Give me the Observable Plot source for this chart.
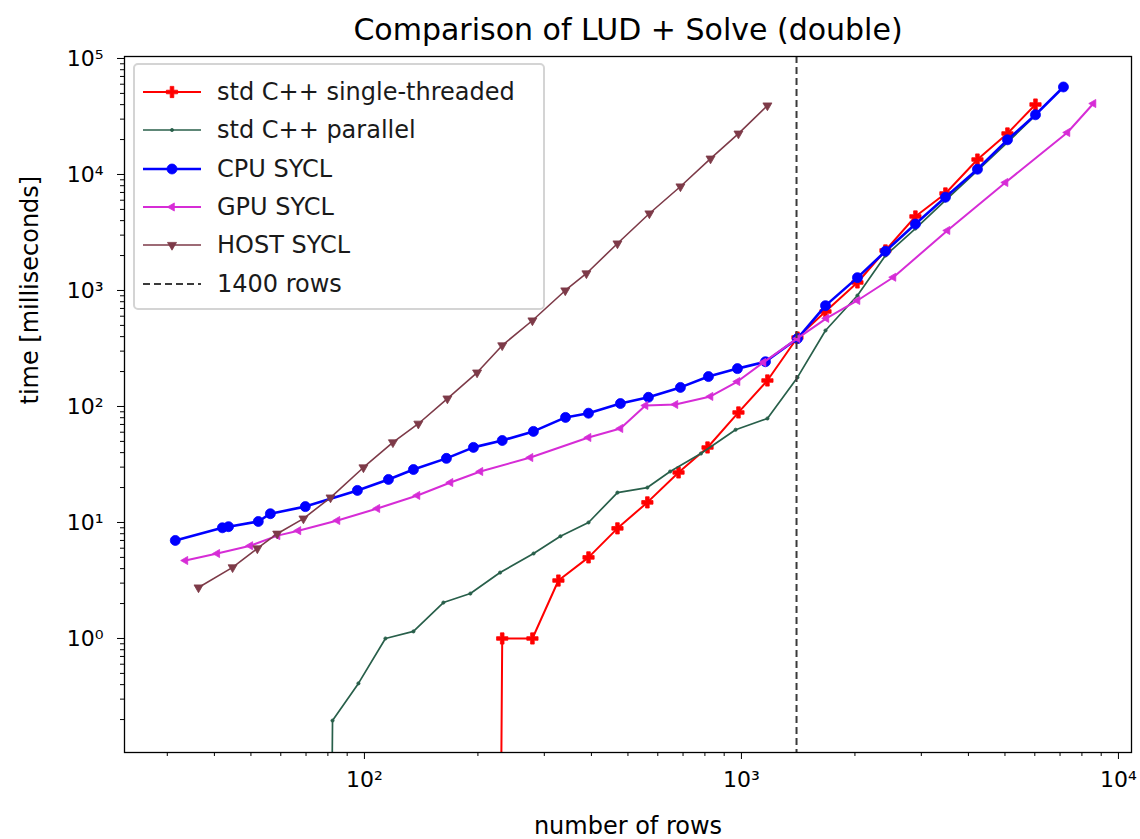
<!DOCTYPE html>
<html><head><meta charset="utf-8">
<script src="https://cdn.jsdelivr.net/npm/d3@7"></script>
<script src="https://cdn.jsdelivr.net/npm/@observablehq/plot@0.6"></script>
<style>
body{margin:0;background:#fff;font-family:"DejaVu Sans",sans-serif;}
#wrap{position:relative;width:1140px;height:839px;}
#legend{position:absolute;left:133px;top:63px;width:412px;height:247px;box-sizing:border-box;border:2px solid #d4d4d4;border-radius:5px;background:rgba(255,255,255,0.82);}
.row{position:absolute;left:0;height:30px;display:flex;align-items:center;font-size:24px;color:#1a1a1a;white-space:nowrap;}
.row svg{margin-left:6px;margin-right:16px;}
</style></head><body><div id="wrap"><div id="legend"></div></div>
<script>
// ---------- data ----------
const title = "Comparison of LUD + Solve (double)";
const xLabel = "number of rows";
const yLabel = "time [milliseconds]";
const seriesNames = ["std C++ single-threaded", "std C++ parallel", "CPU SYCL", "GPU SYCL", "HOST SYCL"];
const markerLineLabel = "1400 rows";
const markerLineX = [1400];

const singleX = [199, 232, 279, 327, 393, 469, 563, 681, 813, 982, 1172, 1408, 1671, 2031, 2410, 2894, 3476, 4227, 5077, 6025];
const singleY = [0, 1.0, 1.0, 3.16, 5.0, 8.9, 14.9, 27, 44.3, 88.8, 167.5, 393, 659, 1172, 2213, 4345, 6860, 13460, 22560, 40100];

const parallelX = [69.7, 82.3, 96.4, 113.7, 134.9, 162, 191, 229, 281, 331, 393, 469, 563, 647, 781, 965, 1172, 1408, 1671, 2031, 2410, 2894, 3476, 4227, 5077, 6025];
const parallelY = [0, 0.196, 0.41, 1.0, 1.15, 2.04, 2.44, 3.7, 5.4, 7.6, 10, 18.1, 20, 27.5, 39.3, 63, 78.8, 178, 452, 905, 2000, 3420, 5970, 10800, 18900, 32300];

const cpuX = [31.5, 42.0, 43.6, 52.3, 56.3, 69.7, 95.8, 115.8, 134.9, 165, 194.6, 232, 280.7, 341.5, 392.9, 477.5, 566.6, 688.9, 817.5, 975.9, 1158, 1408, 1671, 2031, 2410, 2894, 3476, 4227, 5077, 6025, 7147];
const cpuY = [7.0, 9.0, 9.2, 10.2, 11.9, 13.7, 18.9, 23.5, 28.6, 35.7, 44.4, 50.9, 61, 80.5, 87.5, 106, 120, 146, 181, 212, 243, 385, 740, 1290, 2180, 3740, 6370, 11100, 19900, 32700, 56800];

const gpuX = [33.5, 40.7, 49.8, 58.8, 66.8, 84.8, 108.2, 138.2, 169.1, 203, 275.6, 392.9, 477.5, 556.5, 668, 827.7, 976, 1144, 1408, 1680, 2031, 2530, 3519, 5016, 7322, 8584];
const gpuY = [4.7, 5.4, 6.3, 7.7, 8.5, 10.4, 13.2, 17.1, 22.1, 27.5, 36.3, 54, 64.6, 102, 104, 122, 164, 240, 386, 575, 820, 1300, 3290, 8530, 23000, 40900];

const hostX = [36.3, 44.7, 52, 58.7, 68.9, 81.3, 99.4, 119, 139, 166, 199, 232, 279, 341, 388, 469, 570, 689, 828, 982, 1172];
const hostY = [2.75, 4.1, 5.97, 8.0, 10.8, 16.4, 29.8, 49, 71, 117, 196, 336, 551, 1000, 1402, 2540, 4610, 7880, 13700, 22500, 39300];

const xTicks = [100, 1000, 10000];
const xTickLabels = ["10²", "10³", "10⁴"];
const yTicks = [1, 10, 100, 1000, 10000, 100000];
const yTickLabels = ["10⁰", "10¹", "10²", "10³", "10⁴", "10⁵"];

// ---------- build table ----------
const seriesData = [[singleX, singleY], [parallelX, parallelY], [cpuX, cpuY], [gpuX, gpuY], [hostX, hostY]];
const rows = [];
seriesNames.forEach((s, i) => seriesData[i][0].forEach((x, j) => rows.push({series: s, x, y: seriesData[i][1][j]})));

// ---------- symbols ----------
const triDown = {draw(c, size) { const r = Math.sqrt(size / Math.PI) * 1.3; c.moveTo(0, r); c.lineTo(-r * 0.866, -r * 0.5); c.lineTo(r * 0.866, -r * 0.5); c.closePath(); }};
const triLeft = {draw(c, size) { const r = Math.sqrt(size / Math.PI) * 1.3; c.moveTo(-r, 0); c.lineTo(r * 0.5, -r * 0.866); c.lineTo(r * 0.5, r * 0.866); c.closePath(); }};
const plusFilled = {draw(c, size) { const r = Math.sqrt(size / Math.PI) * 1.25, w = r * 0.32;
  c.moveTo(-w, -r); c.lineTo(w, -r); c.lineTo(w, -w); c.lineTo(r, -w); c.lineTo(r, w); c.lineTo(w, w);
  c.lineTo(w, r); c.lineTo(-w, r); c.lineTo(-w, w); c.lineTo(-r, w); c.lineTo(-r, -w); c.lineTo(-w, -w); c.closePath(); }};
const circleSym = d3.symbolCircle;

const styles = {
  "std C++ single-threaded": {color: "#ff0000", width: 2, symbol: plusFilled, r: 4.5},
  "std C++ parallel": {color: "#285f4a", width: 1.7, symbol: circleSym, r: 1.6},
  "CPU SYCL": {color: "#0000ff", width: 2.6, symbol: circleSym, r: 5},
  "GPU SYCL": {color: "#d62cd6", width: 2, symbol: triLeft, r: 3.6},
  "HOST SYCL": {color: "#7d3a48", width: 1.6, symbol: triDown, r: 4.0}
};

const minor = (lo, hi) => { const a = []; for (let k = lo; k <= hi; k++) for (let m = 2; m <= 9; m++) a.push(m * Math.pow(10, k)); return a; };

const yPos = d => d.y > 0 ? d.y : 1e-30; // matplotlib clips non-positive values to the bottom

const marks = [];
seriesNames.forEach(s => {
  const st = styles[s];
  const sd = rows.filter(d => d.series === s);
  marks.push(Plot.line(sd, {x: "x", y: yPos, stroke: st.color, strokeWidth: st.width, clip: true}));
  marks.push(Plot.dot(sd.filter(d => d.y > 0), {x: "x", y: "y", symbol: st.symbol, r: st.r, fill: st.color, stroke: st.color, strokeWidth: 0.8, clip: true}));
});

const chart = Plot.plot({
  width: 1140, height: 839,
  marginLeft: 124, marginRight: 9, marginTop: 56, marginBottom: 87,
  x: {type: "log", domain: [23.1, 10830]},
  y: {type: "log", domain: [0.104, 104000]},
  style: {fontFamily: "DejaVu Sans, sans-serif", background: "white", color: "black"},
  marks: [
    ...marks,
    Plot.ruleX(markerLineX, {stroke: "#3a3a3a", strokeWidth: 2, strokeDasharray: "7,4"}),
    Plot.frame({stroke: "black", strokeWidth: 1.3}),
    Plot.axisX(minor(1, 3).filter(v => v > 23.1 && v < 10830), {tickSize: 4, tickFormat: () => "", label: null}),
    Plot.axisX(xTicks, {tickSize: 7, tickFormat: d => xTickLabels[xTicks.indexOf(d)], fontSize: 22, tickPadding: 12, label: null}),
    Plot.axisY(minor(-1, 4).filter(v => v > 0.104 && v < 104000), {tickSize: 4, tickFormat: () => "", label: null}),
    Plot.axisY(yTicks, {tickSize: 7, tickFormat: d => yTickLabels[yTicks.indexOf(d)], fontSize: 22, tickPadding: 14, label: null}),
    Plot.text([title], {frameAnchor: "top", lineAnchor: "middle", dy: -26, fontSize: 30}),
    Plot.text([xLabel], {frameAnchor: "bottom", lineAnchor: "middle", dy: 74, fontSize: 24}),
    Plot.text([yLabel], {frameAnchor: "left", dx: -94, rotate: -90, fontSize: 24})
  ]
});
document.getElementById("wrap").insertBefore(chart, document.getElementById("legend"));

// ---------- legend ----------
const legend = d3.select("#legend");
const legendItems = seriesNames.map(s => ({label: s, ...styles[s]})).concat([{label: markerLineLabel, color: "#3a3a3a", width: 2, dash: "7,4"}]);
legendItems.forEach((it, i) => {
  const row = legend.append("div").attr("class", "row").style("top", (12 + i * 38.3) + "px");
  const svg = row.append("svg").attr("width", 60).attr("height", 20);
  svg.append("line").attr("x1", 2).attr("x2", 60).attr("y1", 10).attr("y2", 10)
    .attr("stroke", it.color).attr("stroke-width", it.width).attr("stroke-dasharray", it.dash || null);
  if (it.symbol) svg.append("path").attr("transform", "translate(31,10)")
    .attr("d", d3.symbol(it.symbol, it.r * it.r * Math.PI)()).attr("fill", it.color).attr("stroke", it.color).attr("stroke-width", 0.8);
  row.append("span").text(it.label);
});
</script></body></html>
